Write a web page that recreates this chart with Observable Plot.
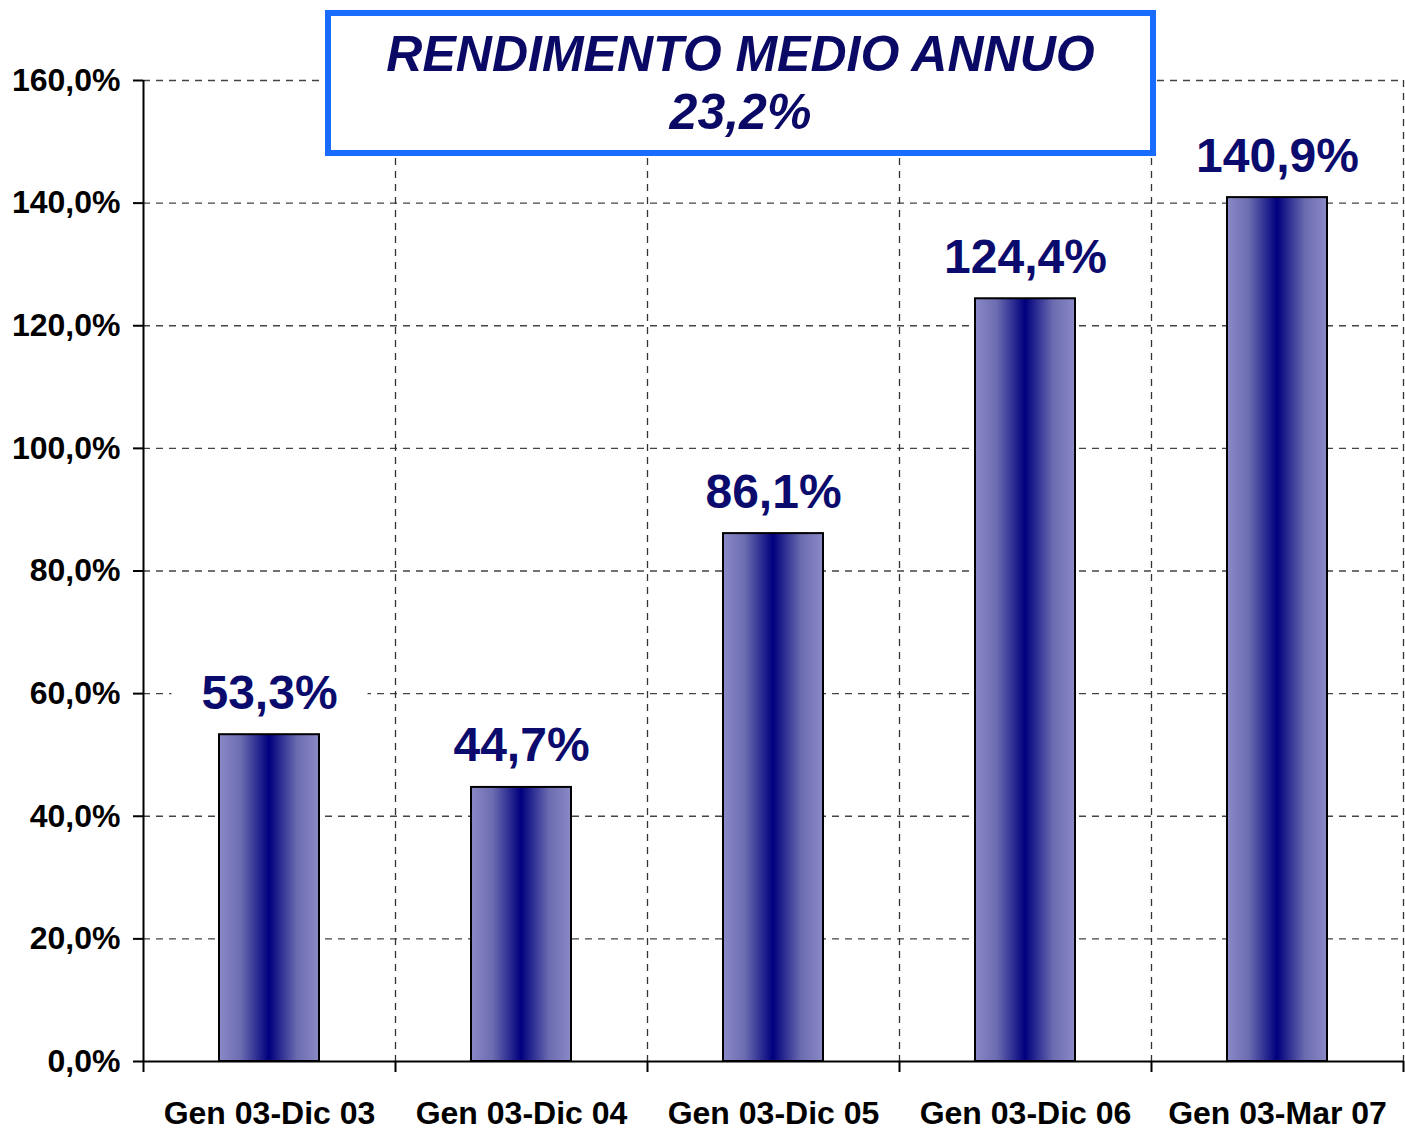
<!DOCTYPE html>
<html>
<head>
<meta charset="utf-8">
<script src="https://cdn.jsdelivr.net/npm/d3@7"></script>
<script src="https://cdn.jsdelivr.net/npm/@observablehq/plot@0.6"></script>
<style>
  html, body { margin: 0; padding: 0; background: #fff; }
  #wrap { position: relative; width: 1405px; height: 1131px; font-family: "Liberation Sans", Arial, sans-serif; }
  #title {
    position: absolute; left: 325px; top: 10px; width: 819px; height: 125px;
    border: 6px solid #1a6cff; background: #fff;
    color: #0a0a66; font-weight: bold; font-style: italic; font-size: 50px;
    line-height: 58px; text-align: center; padding-top: 9px; box-sizing: content-box;
  }
  #title div { margin: 0; }
</style>
</head>
<body>
<div id="wrap">
  <div id="chart"></div>
  <div id="title"><div>RENDIMENTO MEDIO ANNUO</div><div>23,2%</div></div>
</div>
<script>
const categories = ["Gen 03-Dic 03", "Gen 03-Dic 04", "Gen 03-Dic 05", "Gen 03-Dic 06", "Gen 03-Mar 07"];
const values = [53.3, 44.7, 86.1, 124.4, 140.9];
const yTicks = [0, 20, 40, 60, 80, 100, 120, 140, 160];

const n = categories.length;
const data = categories.map((c, i) => ({c, i, v: values[i]}));
const fmtPct = d => d.toFixed(1).replace(".", ",") + "%";

const defs = () => {
  const ns = "http://www.w3.org/2000/svg";
  const d = document.createElementNS(ns, "defs");
  const g = document.createElementNS(ns, "linearGradient");
  g.setAttribute("id", "barGrad");
  g.setAttribute("x1", "0"); g.setAttribute("x2", "1");
  g.setAttribute("y1", "0"); g.setAttribute("y2", "0");
  [["0%", "#8a8ac8"], ["22%", "#6b6bb0"], ["50%", "#00007e"], ["78%", "#6b6bb0"], ["100%", "#8a8ac8"]].forEach(([o, c]) => {
    const s = document.createElementNS(ns, "stop");
    s.setAttribute("offset", o); s.setAttribute("stop-color", c);
    g.appendChild(s);
  });
  d.appendChild(g);
  return d;
};

const chart = Plot.plot({
  width: 1405,
  height: 1131,
  marginLeft: 143,
  marginRight: 2,
  marginTop: 80,
  marginBottom: 70,
  style: {fontFamily: "Liberation Sans, Arial, sans-serif", background: "transparent", overflow: "visible"},
  x: {type: "linear", domain: [0, n]},
  y: {domain: [0, 160]},
  marks: [
    defs,
    Plot.ruleY(yTicks.filter(d => d > 0), {stroke: "#444", strokeWidth: 1.3, strokeDasharray: "7,6"}),
    Plot.ruleX(d3.range(1, n + 1), {stroke: "#333", strokeWidth: 1.3, strokeDasharray: "7,6"}),
    Plot.rectY(data, {x1: "i", x2: d => d.i + 1, y: "v", insetLeft: 76, insetRight: 76, fill: "url(#barGrad)", stroke: "#000", strokeWidth: 2}),
    Plot.text(data, {x: d => d.i + 0.5, y: "v", text: d => fmtPct(d.v), lineAnchor: "bottom", dy: -26, fontSize: 48, fontWeight: "bold", fill: "#0b0b6e", className: "vlabel"}),
    Plot.ruleY([0], {stroke: "#000", strokeWidth: 2}),
    Plot.ruleX([0], {stroke: "#000", strokeWidth: 2}),
    Plot.axisY({ticks: yTicks, tickFormat: fmtPct, tickSize: 10, tickPadding: 13, fontSize: 32, fontWeight: "bold", label: null, stroke: "#000", strokeWidth: 2, color: "#000"}),
    Plot.axisX({ticks: d3.range(0, n + 1), tickSize: 11, tickFormat: () => "", label: null, strokeWidth: 2}),
    Plot.axisX({ticks: d3.range(n).map(i => i + 0.5), tickSize: 0, tickPadding: 40, tickFormat: d => categories[Math.floor(d)], fontSize: 32, fontWeight: "bold", label: null, color: "#000"})
  ]
});

document.getElementById("chart").appendChild(chart);

// white boxes behind the value labels (as in the original, they mask the grid)
const ns = "http://www.w3.org/2000/svg";
chart.querySelectorAll("g.vlabel text").forEach(t => {
  const b = t.getBBox();
  const r = document.createElementNS(ns, "rect");
  r.setAttribute("x", b.x - 30);
  r.setAttribute("y", b.y - 8);
  r.setAttribute("width", b.width + 60);
  r.setAttribute("height", b.height + 12);
  r.setAttribute("fill", "#fff");
  const tr = t.getAttribute("transform");
  if (tr) r.setAttribute("transform", tr);
  t.parentNode.insertBefore(r, t);
});
</script>
</body>
</html>
